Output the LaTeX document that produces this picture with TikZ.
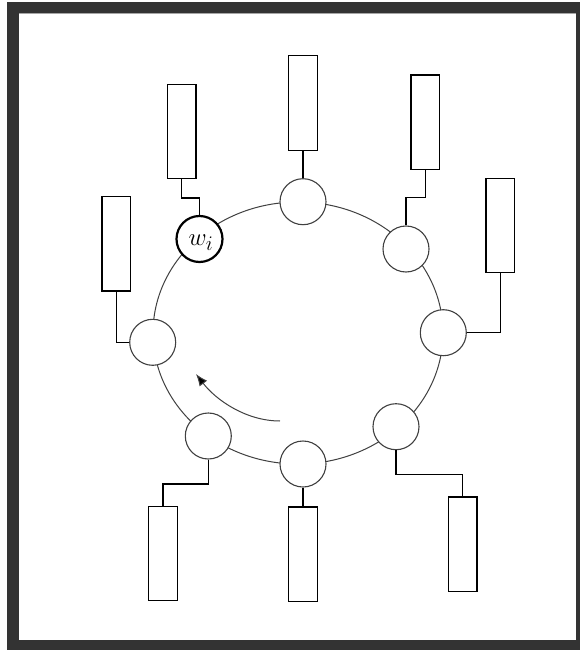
\documentclass[tikz,border=0pt]{standalone}
\usetikzlibrary{arrows.meta}
\definecolor{framec}{HTML}{333333}
\definecolor{ringc}{HTML}{404040}
\tikzset{
  pylon/.style={draw=black, line width=1.3pt, fill=white, minimum width=28.5pt, minimum height=94.3pt, inner sep=0pt},
  station/.style={circle, draw=ringc, line width=1.1pt, fill=white, minimum size=46pt, inner sep=0pt},
  mainst/.style={station, draw=black, line width=2.2pt},
  wire/.style={draw=black, line width=1.3pt},
  ring/.style={draw=ringc, line width=1pt}
}
\begin{document}
\begin{tikzpicture}[x=1pt, y=-1pt]
\useasboundingbox (0,0) rectangle (580,650);
\fill[white] (0,0) rectangle (580,650);
\fill[framec] (7,2) rectangle (580,650);
\fill[white] (19,13) rectangle (576,640);
\draw[gray!70, line width=1pt] (19,13.5) -- (576,13.5);
% ring
\draw[ring] (298,333) ellipse [x radius=145pt, y radius=131pt];
% stations
\node[station] (n1) at (303,201.7) {};
\node[mainst] (n2) at (199.5,239) {};
\node[station] (n3) at (152.7,342.3) {};
\node[station] (n4) at (406,249) {};
\node[station] (n5) at (443.3,332.7) {};
\node[station] (n6) at (396,426.7) {};
\node[station] (n7) at (303,464) {};
\node[station] (n8) at (208.3,436) {};
\node (lbl) at (201,243) {\fontsize{29}{29}\selectfont $w_i$};
% pylons
\node[pylon] (r1) at (303,103) {};
\node[pylon] (r2) at (181.7,131.5) {};
\node[pylon] (r3) at (116.2,243.8) {};
\node[pylon] (r4) at (425.3,122.2) {};
\node[pylon] (r5) at (500.3,225.3) {};
\node[pylon] (r6) at (462.8,544.2) {};
\node[pylon] (r7) at (303,554) {};
\node[pylon] (r8) at (163,553.5) {};
% wires
\draw[wire] (r1.south) -- (n1.north);
\draw[wire] (r2.south) -- ++(0,18.6) -| (n2.north);
\draw[wire] (r3.south) |- (n3.west);
\draw[wire] (r4.south) -- ++(0,27.7) -| (n4.north);
\draw[wire] (r5.south) |- (n5.east);
\draw[wire] (n6.south) -- ++(0,24) -| (r6.north);
\draw[wire] (n7.south) -- (r7.north);
\draw[wire] (n8.south) -- ++(0,24.3) -| (r8.north);
% direction arrow
\coordinate (a0) at (280,421);
\coordinate (a1) at (196,374);
\draw[ring, -{Latex[length=12pt,width=9.5pt,fill=black]}] (a0) .. controls (246,421) and (216,400) .. (a1);
\end{tikzpicture}
\end{document}
